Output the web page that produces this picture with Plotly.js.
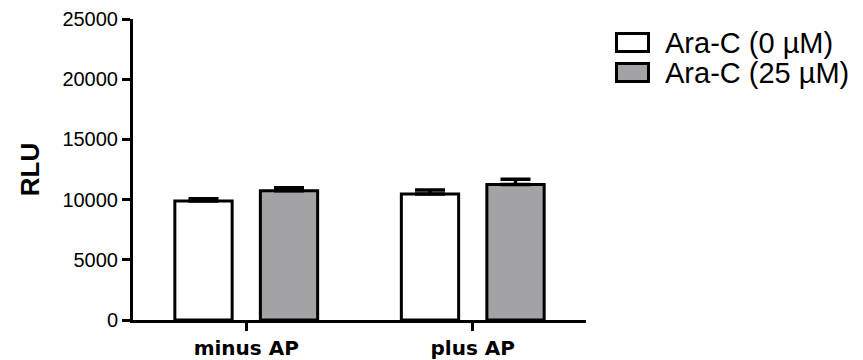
<!DOCTYPE html>
<html>
<head>
<meta charset="utf-8">
<script src="https://cdn.plot.ly/plotly-3.0.1.min.js"></script>
<style>html,body{margin:0;padding:0;background:#fff;}#chart{width:863px;height:360px;}</style>
</head>
<body>
<div id="chart"></div>
<script>
// ---- data ----
const categories = ["minus AP", "plus AP"];
const seriesNames = ["Ara-C (0 \u00b5M)", "Ara-C (25 \u00b5M)"];
const values0 = [9880, 10460];
const values25 = [10730, 11260];
const err0 = [200, 330];
const err25 = [250, 420];
const yTicks = [0, 5000, 10000, 15000, 20000, 25000];

// ---- layout constants ----
const W = 863, H = 360;
const M = {l: 133, r: 277, t: 19, b: 40};
const PW = W - M.l - M.r, PH = H - M.t - M.b;
const px2x = p => (p - M.l) / PW;
const px2y = p => (H - M.b - p) / PH;
const fills = ["#ffffff", "#a3a3a6"];

const mkBar = (name, vals, errs, fill) => ({
  type: "bar", name: name, x: categories, y: vals,
  marker: {color: fill, line: {color: "#000", width: 3}},
  error_y: {type: "data", symmetric: false, array: errs, arrayminus: errs.map(() => 0),
            color: "#000", thickness: 3.5, width: 15},
  showlegend: false, hoverinfo: "skip"
});

const data = [
  mkBar(seriesNames[0], values0, err0, fills[0]),
  mkBar(seriesNames[1], values25, err25, fills[1])
];

// legend drawn as boxes + text
const legendBoxes = [[32, 53], [62, 83]];
const shapes = [], annotations = [];
seriesNames.forEach((n, i) => {
  const [y0, y1] = legendBoxes[i];
  shapes.push({type: "rect", xref: "paper", yref: "paper",
    x0: px2x(616.5), x1: px2x(648.5), y0: px2y(y0 + 1.5), y1: px2y(y1 - 1.5),
    fillcolor: fills[i], line: {color: "#000", width: 3}});
  annotations.push({xref: "paper", yref: "paper", x: px2x(663), y: px2y((y0 + y1) / 2),
    xanchor: "left", yanchor: "middle", showarrow: false, text: n,
    font: {family: "Liberation Sans, Arial, sans-serif", size: 29, color: "#000"}});
});

const layout = {
  width: W, height: H, margin: M,
  paper_bgcolor: "#fff", plot_bgcolor: "#fff",
  barmode: "group", bargap: 0.245, bargroupgap: 0.33,
  showlegend: false,
  xaxis: {
    type: "category", range: [-0.5, 1.5],
    showline: true, linecolor: "#000", linewidth: 3,
    ticks: "outside", ticklen: 8, tickwidth: 3, tickcolor: "#000",
    showgrid: false, zeroline: false,
    tickfont: {family: "DejaVu Sans, sans-serif", size: 20, color: "#000", weight: "bold"}
  },
  yaxis: {
    range: [0, 25000], tickvals: yTicks, ticktext: yTicks.map(String),
    showline: true, linecolor: "#000", linewidth: 3,
    ticks: "outside", ticklen: 8, tickwidth: 3, tickcolor: "#000",
    showgrid: false, zeroline: false,
    tickfont: {family: "Liberation Sans, Arial, sans-serif", size: 20, color: "#000"},
    title: {text: "<b>RLU</b>", standoff: 16,
            font: {family: "Liberation Sans, Arial, sans-serif", size: 26, color: "#000"}}
  },
  shapes: shapes, annotations: annotations
};

Plotly.newPlot("chart", data, layout, {displayModeBar: false, staticPlot: true});
</script>
</body>
</html>
